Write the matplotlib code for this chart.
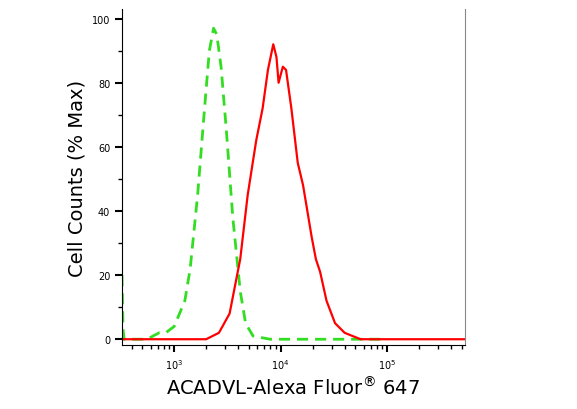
import matplotlib.pyplot as plt
import numpy as np

# x in log10 units
green_log = [2.51, 2.52, 2.53, 2.6, 2.75, 2.8, 2.86, 2.92, 3.0, 3.1, 3.15, 3.22, 3.28, 3.33, 3.37, 3.4, 3.44, 3.49, 3.55, 3.62, 3.67, 3.74, 3.9, 4.2, 4.6, 5.0]
green_val = [20, 3, 0, 0, 0, 1, 2, 2, 4, 12, 22, 45, 70, 90, 97, 95, 85, 65, 38, 15, 5, 1, 0, 0, 0, 0]
red_log = [2.51, 3.0, 3.3, 3.42, 3.52, 3.62, 3.69, 3.77, 3.83, 3.88, 3.93, 3.96, 3.98, 4.02, 4.05, 4.1, 4.16, 4.21, 4.24, 4.29, 4.33, 4.37, 4.43, 4.51, 4.6, 4.75, 5.0, 5.73]
red_val = [0, 0, 0, 2, 8, 25, 45, 62, 72, 84, 92, 88, 80, 85, 84, 72, 55, 48, 42, 32, 25, 21, 12, 5, 2, 0, 0, 0]

fig = plt.figure(figsize=(5.77, 4.10), dpi=100)
ax = fig.add_axes([122/577, 1-346/410, 343/577, 336/410])
ax.plot(10**np.array(green_log), green_val, color="#33dd22", lw=2, ls=(0, (4, 2.5)))
ax.plot(10**np.array(red_log), red_val, color="red", lw=1.6)
ax.set_xscale("log")
ax.set_xlim(10**2.51, 10**5.73)
ax.set_ylim(-1.8, 103)
ax.spines["top"].set_visible(False)
ax.spines["right"].set_color("#888888")
ax.set_yticks([0, 20, 40, 60, 80, 100])
ax.set_yticks(np.arange(0, 101, 10), minor=True)
ax.tick_params(axis="both", which="major", direction="out", length=5, width=1.5, labelsize=7)
ax.tick_params(axis="both", which="minor", direction="out", length=3, width=1)
ax.set_xticks([1e3, 1e4, 1e5])
ax.set_xticklabels(["$10^3$", "$10^4$", "$10^5$"])
ax.set_ylabel("Cell Counts (% Max)", fontsize=14)
ax.set_xlabel("ACADVL-Alexa Fluor$^{\\circledR}$ 647", fontsize=14)
fig.savefig("out.png")
